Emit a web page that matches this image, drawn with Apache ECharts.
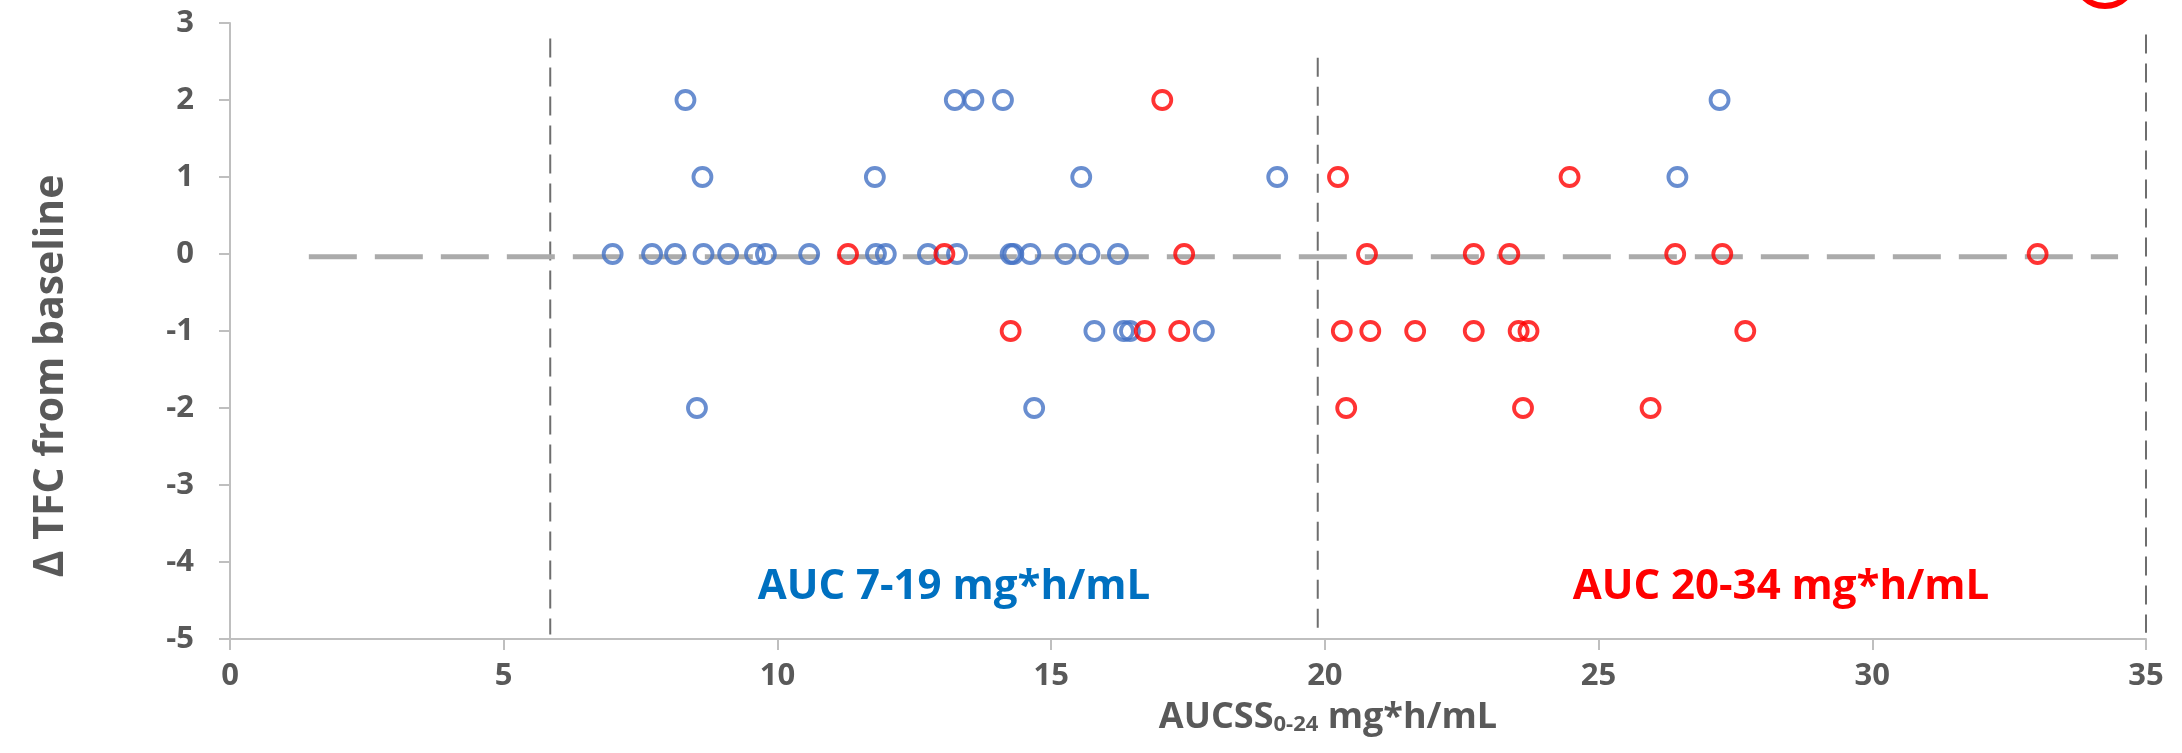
<!DOCTYPE html>
<html>
<head>
<meta charset="utf-8">
<title>AUCss vs TFC change</title>
<script src="https://cdn.jsdelivr.net/npm/echarts@6/dist/echarts.min.js"></script>
<style>
  html, body { margin: 0; padding: 0; background: #fff; }
  #main { width: 2182px; height: 753px; }
</style>
</head>
<body>
<div id="main"></div>
<script>
// AUC 7-19 mg*h/mL group (blue)
var blueAuc = [8.32, 13.24, 13.58, 14.12, 27.21,
  8.63, 11.78, 15.55, 19.13, 26.44,
  6.99, 7.71, 8.13, 8.65, 9.10, 9.59, 9.79, 10.58, 11.80, 11.98, 12.75, 13.28, 14.26, 14.31, 14.62, 15.26, 15.70, 16.22,
  15.79, 16.33, 16.44, 17.79,
  8.53, 14.69];
var blueTfc = [2, 2, 2, 2, 2,
  1, 1, 1, 1, 1,
  0, 0, 0, 0, 0, 0, 0, 0, 0, 0, 0, 0, 0, 0, 0, 0, 0, 0,
  -1, -1, -1, -1,
  -2, -2];

// AUC 20-34 mg*h/mL group (red)
var redAuc = [17.03,
  20.24, 24.47,
  11.29, 13.05, 17.43, 20.77, 22.72, 23.37, 26.40, 27.26, 33.02,
  14.26, 16.71, 17.34, 20.31, 20.83, 21.65, 22.72, 23.54, 23.72, 27.68,
  20.39, 23.62, 25.95];
var redTfc = [2,
  1, 1,
  0, 0, 0, 0, 0, 0, 0, 0, 0,
  -1, -1, -1, -1, -1, -1, -1, -1, -1, -1,
  -2, -2, -2];

// flat trend line (ends)
var trendX = [1.44, 34.49];
var trendY = [-0.035, -0.035];

// vertical cut-off lines
var cutX = [5.85, 19.87, 35];
var cutTop = [2.8, 2.55, 2.85];
var cutBottom = [-4.94, -4.92, -4.92];

var bandTexts = ['AUC 7-19 mg*h/mL', 'AUC 20-34 mg*h/mL'];

var chart = echarts.init(document.getElementById('main'));

function pairs(xs, ys) {
  return xs.map(function (x, i) { return [x, ys[i]]; });
}

var grey = '#595959';
var font = 'Open Sans';

var cutSeries = cutX.map(function (x, i) {
  return {
    type: 'line',
    data: [[x, cutTop[i]], [x, cutBottom[i]]],
    symbol: 'none',
    clip: false,
    silent: true,
    z: 1,
    lineStyle: { color: '#6E6E6E', width: 2, type: [19, 10] }
  };
});

var option = {
  backgroundColor: '#fff',
  animation: false,
  grid: { left: 230, right: 36, top: 23, bottom: 114 },
  xAxis: {
    type: 'value',
    min: 0, max: 35, interval: 5,
    splitLine: { show: false },
    axisLine: { show: true, onZero: false, lineStyle: { color: '#BFBFBF', width: 2 } },
    axisTick: { show: true, length: 11, lineStyle: { color: '#BFBFBF', width: 2 } },
    axisLabel: { color: grey, fontSize: 31, fontWeight: 'bold', fontFamily: font, margin: 22 }
  },
  yAxis: {
    type: 'value',
    min: -5, max: 3, interval: 1,
    splitLine: { show: false },
    axisLine: { show: true, onZero: false, lineStyle: { color: '#BFBFBF', width: 2 } },
    axisTick: { show: true, length: 11, lineStyle: { color: '#BFBFBF', width: 2 } },
    axisLabel: { color: grey, fontSize: 31, fontWeight: 'bold', fontFamily: font, margin: 36 }
  },
  series: cutSeries.concat([
    {
      type: 'line',
      data: pairs(trendX, trendY),
      symbol: 'none',
      silent: true,
      z: 2,
      lineStyle: { color: '#ABABAB', width: 5, type: [48, 18], cap: 'butt' }
    },
    {
      name: 'AUC 7-19',
      type: 'scatter',
      data: pairs(blueAuc, blueTfc),
      symbol: 'circle',
      symbolSize: 18,
      z: 3,
      itemStyle: { color: 'rgba(0,0,0,0)', borderColor: '#4472C4', borderWidth: 3.8 }
    },
    {
      name: 'AUC 20-34',
      type: 'scatter',
      data: pairs(redAuc, redTfc),
      symbol: 'circle',
      symbolSize: 18,
      z: 3,
      itemStyle: { color: 'rgba(0,0,0,0)', borderColor: '#FF0000', borderWidth: 3.8 }
    }
  ]),
  graphic: [
    {
      type: 'text',
      x: 51, y: 376,
      rotation: Math.PI / 2,
      style: {
        text: 'Δ TFC from baseline',
        fill: grey, fontSize: 41, fontWeight: 'bold', fontFamily: font,
        align: 'center', verticalAlign: 'middle'
      }
    },
    {
      type: 'text',
      x: 1328, y: 714,
      style: {
        text: '{a|AUCSS}{b|0-24}{a| mg*h/mL}',
        align: 'center', verticalAlign: 'middle',
        rich: {
          a: { fill: grey, fontSize: 36, fontWeight: 'bold', fontFamily: font, lineHeight: 44, verticalAlign: 'bottom' },
          b: { fill: grey, fontSize: 22, fontWeight: 'bold', fontFamily: font, lineHeight: 18, verticalAlign: 'bottom' }
        }
      }
    },
    {
      type: 'text',
      x: 954, y: 587,
      style: {
        text: bandTexts[0],
        fill: '#0070C0', fontSize: 42, fontWeight: 'bold', fontFamily: font,
        align: 'center', verticalAlign: 'middle'
      }
    },
    {
      type: 'text',
      x: 1781, y: 587,
      style: {
        text: bandTexts[1],
        fill: '#FF0000', fontSize: 42, fontWeight: 'bold', fontFamily: font,
        align: 'center', verticalAlign: 'middle'
      }
    },
    {
      type: 'circle',
      shape: { cx: 2105, cy: -24, r: 30 },
      style: { fill: 'none', stroke: '#FF0000', lineWidth: 6 }
    }
  ]
};

chart.setOption(option);
</script>
</body>
</html>
